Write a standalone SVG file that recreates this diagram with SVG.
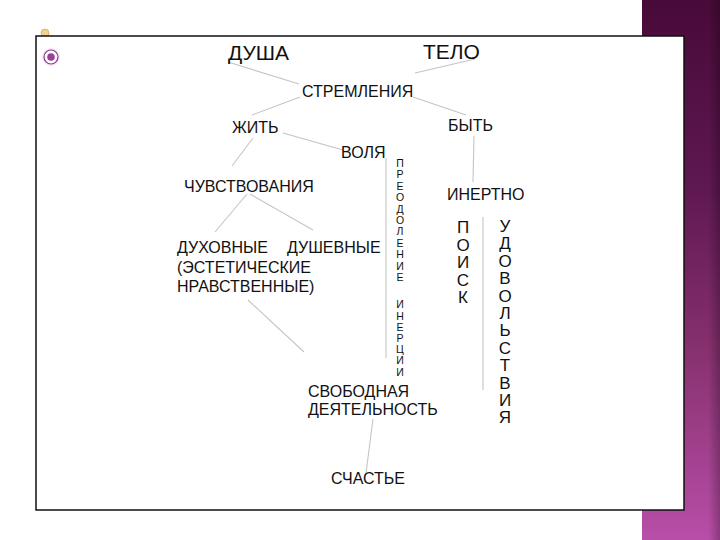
<svg xmlns="http://www.w3.org/2000/svg" width="720" height="540" viewBox="0 0 720 540">
<defs>
<linearGradient id="band" x1="0" y1="0" x2="0" y2="1">
<stop offset="0" stop-color="#480a38"/>
<stop offset="0.35" stop-color="#5f1852"/>
<stop offset="0.65" stop-color="#87316f"/>
<stop offset="1" stop-color="#b84ea8"/>
</linearGradient>
<linearGradient id="bandEdge" x1="0" y1="0" x2="1" y2="0">
<stop offset="0" stop-color="#000" stop-opacity="0"/>
<stop offset="0.85" stop-color="#000" stop-opacity="0"/>
<stop offset="1" stop-color="#000" stop-opacity="0.25"/>
</linearGradient>
<style>
.t{font-family:"Liberation Sans",Arial,sans-serif;font-size:16px;fill:#111}
.big{font-size:21px}
.sm{font-size:10.5px}
.v{font-size:17px;text-anchor:middle}
.c line{stroke:#c4c4c4;stroke-width:1.1;fill:none}
</style>
</defs>
<rect x="0" y="0" width="720" height="540" fill="#fff"/>
<rect x="642" y="0" width="78" height="540" fill="url(#band)"/>
<rect x="642" y="0" width="78" height="540" fill="url(#bandEdge)"/>
<g id="bullet1"><circle cx="45" cy="33" r="4" fill="#f4d08e" stroke="#d9aa62" stroke-width="0.8"/></g>
<rect x="36" y="36" width="648" height="474" fill="#fff" stroke="#111" stroke-width="1.5"/>
<g id="bullet2">
<circle cx="51" cy="57" r="9" fill="#f6e8f5"/>
<circle cx="51" cy="57" r="7" fill="#fff" stroke="#8c3c8c" stroke-width="1.2"/>
<circle cx="51" cy="57" r="3.8" fill="#9b3f98"/>
</g>
<g class="c" id="connectors">
<line x1="228" y1="62" x2="299" y2="84"/>
<line x1="475" y1="59" x2="415" y2="73"/>
<line x1="300" y1="97" x2="252" y2="115"/>
<line x1="413" y1="97" x2="466" y2="115"/>
<line x1="474" y1="136" x2="473" y2="182"/>
<line x1="283" y1="133" x2="343" y2="150"/>
<line x1="253" y1="138" x2="232" y2="166"/>
<line x1="386" y1="158" x2="386" y2="358"/>
<line x1="247" y1="194" x2="215" y2="232"/>
<line x1="250" y1="194" x2="313" y2="230"/>
<line x1="248" y1="300" x2="304" y2="352"/>
<line x1="373" y1="419" x2="366" y2="473"/>
<line x1="483" y1="217" x2="483" y2="390"/>
</g>
<g id="dusha"><text class="t big" x="228" y="60">ДУША</text></g>
<g id="telo"><text class="t big" x="423" y="59">ТЕЛО</text></g>
<g id="stremleniya"><text class="t" x="302" y="97">СТРЕМЛЕНИЯ</text></g>
<g id="zhit"><text class="t" x="232" y="133">ЖИТЬ</text></g>
<g id="byt"><text class="t" x="448" y="131">БЫТЬ</text></g>
<g id="volya"><text class="t" x="341" y="158">ВОЛЯ</text></g>
<g id="chuvstvovaniya"><text class="t" x="184" y="192">ЧУВСТВОВАНИЯ</text></g>
<g id="inertno"><text class="t" x="447" y="200">ИНЕРТНО</text></g>
<g id="dukhovnye">
<text class="t" x="177" y="253">ДУХОВНЫЕ</text>
<text class="t" x="177" y="273">(ЭСТЕТИЧЕСКИЕ</text>
<text class="t" x="177" y="292">НРАВСТВЕННЫЕ)</text>
</g>
<g id="dushevnye"><text class="t" x="287" y="253">ДУШЕВНЫЕ</text></g>
<g id="preodolenie">
<text class="t sm" text-anchor="middle" x="400" y="167"><tspan x="400">П</tspan><tspan x="400" dy="11.4">Р</tspan><tspan x="400" dy="11.4">Е</tspan><tspan x="400" dy="11.4">О</tspan><tspan x="400" dy="11.4">Д</tspan><tspan x="400" dy="11.4">О</tspan><tspan x="400" dy="11.4">Л</tspan><tspan x="400" dy="11.4">Е</tspan><tspan x="400" dy="11.4">Н</tspan><tspan x="400" dy="11.4">И</tspan><tspan x="400" dy="11.4">Е</tspan><tspan x="400" dy="27.4">И</tspan><tspan x="400" dy="11.2">Н</tspan><tspan x="400" dy="11.2">Е</tspan><tspan x="400" dy="11.2">Р</tspan><tspan x="400" dy="11.2">Ц</tspan><tspan x="400" dy="11.2">И</tspan><tspan x="400" dy="11.2">И</tspan></text>
</g>
<g id="poisk">
<text class="t v" x="463" y="233"><tspan x="463">П</tspan><tspan x="463" dy="17.5">О</tspan><tspan x="463" dy="17.5">И</tspan><tspan x="463" dy="17.5">С</tspan><tspan x="463" dy="17.5">К</tspan></text>
</g>
<g id="udovolstviya">
<text class="t v" x="505" y="232"><tspan x="505">У</tspan><tspan x="505" dy="17.4">Д</tspan><tspan x="505" dy="17.4">О</tspan><tspan x="505" dy="17.4">В</tspan><tspan x="505" dy="17.4">О</tspan><tspan x="505" dy="17.4">Л</tspan><tspan x="505" dy="17.4">Ь</tspan><tspan x="505" dy="17.4">С</tspan><tspan x="505" dy="17.4">Т</tspan><tspan x="505" dy="17.4">В</tspan><tspan x="505" dy="17.4">И</tspan><tspan x="505" dy="17.4">Я</tspan></text>
</g>
<g id="svobodnaya">
<text class="t" x="308" y="397">СВОБОДНАЯ</text>
<text class="t" x="308" y="415">ДЕЯТЕЛЬНОСТЬ</text>
</g>
<g id="schastye"><text class="t" x="331" y="484">СЧАСТЬЕ</text></g>
</svg>
